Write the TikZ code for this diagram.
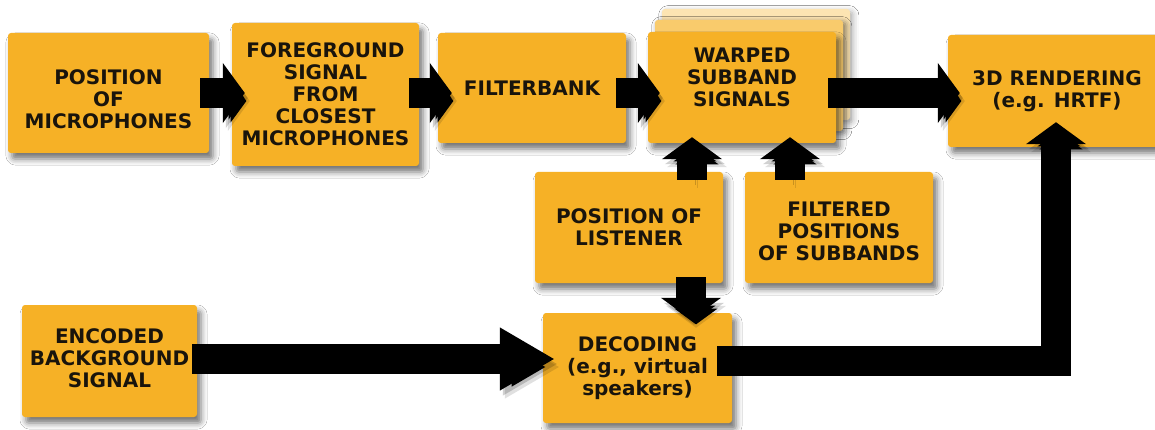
\documentclass[tikz,border=0pt]{standalone}
\usepackage{fontspec}
\setmainfont{DejaVu Sans}
\usetikzlibrary{arrows.meta,calc,shadows.blur}

\definecolor{boxorange}{RGB}{246,177,38}
\definecolor{stackmid}{RGB}{249,203,108}
\definecolor{stackback}{RGB}{252,228,178}
\definecolor{ink}{RGB}{25,20,12}

\tikzset{
  blocktext/.style={align=center, text=ink, inner sep=0pt,
    font=\bfseries\fontsize{20}{22}\selectfont},
  block/.style={blocktext, rectangle, rounded corners=3pt, fill=boxorange, draw=none,
    blur shadow={shadow xshift=4pt, shadow yshift=-6pt,
      shadow blur radius=6pt, shadow opacity=55}},
  flow/.style={line width=30pt, draw=black, line join=miter,
    -{Triangle[length=22pt,width=59pt]},
    preaction={draw=black, draw opacity=0.12, transform canvas={shift={(5pt,-8pt)}}},
    preaction={draw=black, draw opacity=0.18, transform canvas={shift={(3pt,-5pt)}}}},
  longflow/.style={flow, -{Triangle[length=55pt,width=59pt]}},
}

\begin{document}
\begin{tikzpicture}[x=1pt,y=-1pt]
  \useasboundingbox (0,0) rectangle (1155,430);
  \fill[white] (0,0) rectangle (1155,430);
  \clip (0,0) rectangle (1155,430);

  % top row
  \node[block, minimum width=201pt, minimum height=120pt] (mic) at (108.5,93) {};
  \node[blocktext] (mictext) at (108.5,99) {POSITION\\OF\\MICROPHONES};
  \node[block, minimum width=187pt, minimum height=143pt] (fg) at (325.5,94.5)
    {FOREGROUND\\SIGNAL\\FROM\\CLOSEST\\MICROPHONES};
  \node[block, minimum width=188pt, minimum height=110pt] (fb) at (532,88)
    {FILTERBANK};

  % stacked subband sheets
  \node[block, fill=stackback, minimum width=188pt, minimum height=111pt,
    blur shadow={shadow opacity=18}] (warpB) at (756,64.5) {};
  \node[block, fill=stackmid, minimum width=188pt, minimum height=111pt,
    blur shadow={shadow opacity=28}] (warpM) at (749,75.5) {};
  \node[block, minimum width=188pt, minimum height=111pt] (warp) at (742,87.5) {};
  \node[blocktext] (warptext) at (742,77) {WARPED\\SUBBAND\\SIGNALS};

  \node[block, minimum width=218pt, minimum height=112pt] (rend) at (1057,91)
    {3D RENDERING\\(e.g. HRTF)};

  % middle row
  \node[block, minimum width=188pt, minimum height=111pt] (listener) at (629,227.5)
    {POSITION OF\\LISTENER};
  \node[block, minimum width=188pt, minimum height=111pt] (filtered) at (839,227.5) {};
  \node[blocktext] (filteredtext) at (839,231.5) {FILTERED\\POSITIONS\\OF SUBBANDS};

  % bottom row
  \node[block, minimum width=175pt, minimum height=112pt] (encoded) at (109.5,361) {};
  \node[blocktext] (encodedtext) at (109.5,358.5) {ENCODED\\BACKGROUND\\SIGNAL};
  \node[block, minimum width=189pt, minimum height=110pt] (decoding) at (637.5,368)
    {DECODING\\(e.g., virtual\\speakers)};

  % connectors
  \draw[flow] ($(mic.east)+(-9,0)$) -- ($(mic.east -| fg.west)+(13,0)$);
  \draw[flow] ($(fg.east |- mic.east)+(-10,0)$) -- ($(mic.east -| fb.west)+(14,0)$);
  \draw[flow] ($(fb.east |- mic.east)+(-10,0)$) -- ($(mic.east -| warp.west)+(12,0)$);
  \draw[flow] ($(warp.east |- mic.east)+(-8,0)$) -- ($(mic.east -| rend.west)+(12,0)$);

  \draw[flow] ($(listener.north)+(63,8)$) coordinate (lu)
    -- ($(lu |- warp.south)+(0,-6)$);
  \draw[flow] ($(filtered.north)+(-49,8)$) coordinate (fu)
    -- ($(fu |- warp.south)+(0,-6)$);
  \draw[flow] ($(listener.south)+(62,-6)$) coordinate (ld)
    -- ($(ld |- decoding.north)+(0,7)$);

  \draw[longflow] ($(encoded.east)+(-5,-2)$) coordinate (eb)
    -- ($(eb -| decoding.west)+(12,0)$);
  \draw[flow] ($(decoding.east)+(-15,-7)$) -| ($(rend.south)+(-1,-25)$);
\end{tikzpicture}
\end{document}
